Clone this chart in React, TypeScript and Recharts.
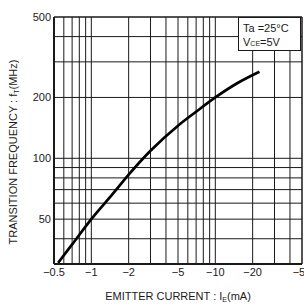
import { LineChart, Line, XAxis, YAxis, ReferenceLine } from "recharts";

// emitter current magnitude (mA) vs transition frequency fT (MHz)
const currentMA = [0.54, 0.7, 1, 1.5, 2, 3, 5, 7, 10, 15, 22.7];
const fT = [30.4, 37.5, 50, 67, 83, 109, 145, 170, 200, 235, 268];

const xTicks = [0.5, 1, 2, 5, 10, 20, 50];
const yTicks = [50, 100, 200, 500];
const xGrid = [0.6, 0.7, 0.8, 0.9, 1, 2, 3, 4, 5, 6, 7, 8, 9, 10, 20, 30, 40];
const yGrid = [40, 50, 60, 70, 80, 90, 100, 200, 300, 400];

const data = currentMA.map((i, k) => ({ i, f: fT[k] }));

const FONT = "'Liberation Sans', Arial, sans-serif";
const INK = "#1a1a1a";

function YTitle() {
  return (
    <text
      x={17}
      y={152}
      transform="rotate(-90, 17, 152)"
      textAnchor="middle"
      fontSize={11}
      fontFamily={FONT}
      fill={INK}
    >
      TRANSITION FREQUENCY : f
      <tspan fontSize={7} dy={2}>T</tspan>
      <tspan dy={-2}>(MHz)</tspan>
    </text>
  );
}

function XTitle() {
  return (
    <text x={178} y={300} textAnchor="middle" fontSize={11} fontFamily={FONT} fill={INK}>
      EMITTER CURRENT : I
      <tspan fontSize={7} dy={2}>E</tspan>
      <tspan dy={-2}>(mA)</tspan>
    </text>
  );
}

export default function App() {
  return (
    <div style={{ position: "absolute", left: 0, top: 0, width: 304, height: 305, background: "#fff" }}>
      <LineChart width={304} height={305} data={data} margin={{ top: 17, right: 2, left: 0, bottom: 0 }}>
        <XAxis
          dataKey="i"
          type="number"
          scale="log"
          domain={[0.5, 50]}
          ticks={xTicks}
          interval={0}
          allowDataOverflow
          tickFormatter={(v: number) => "\u2212" + v}
          tick={{ fill: INK, fontSize: 11, fontFamily: FONT }}
          tickSize={0}
          tickMargin={4}
          height={41}
          axisLine={{ stroke: INK, strokeWidth: 2 }}
          label={<XTitle />}
        />
        <YAxis
          dataKey="f"
          type="number"
          scale="log"
          domain={[30, 500]}
          ticks={yTicks}
          interval={0}
          allowDataOverflow
          tick={{ fill: INK, fontSize: 11, fontFamily: FONT }}
          tickSize={0}
          tickMargin={3}
          width={54}
          axisLine={{ stroke: INK, strokeWidth: 2 }}
          label={<YTitle />}
        />
        {xGrid.map((v) => (
          <ReferenceLine key={"x" + v} x={v} stroke={INK} strokeWidth={1} />
        ))}
        {yGrid.map((v) => (
          <ReferenceLine key={"y" + v} y={v} stroke={INK} strokeWidth={1} />
        ))}
        <ReferenceLine x={50} stroke={INK} strokeWidth={1.5} />
        <ReferenceLine y={500} stroke={INK} strokeWidth={1.5} />
        <Line
          dataKey="f"
          type="monotone"
          stroke="#000"
          strokeWidth={2.7}
          dot={false}
          isAnimationActive={false}
        />
      </LineChart>
      <div
        style={{
          position: "absolute",
          left: 238,
          top: 17,
          width: 63,
          height: 34,
          boxSizing: "border-box",
          border: `1px solid ${INK}`,
          background: "#fff",
          fontFamily: FONT,
          fontSize: 11,
          color: INK,
          lineHeight: "14px",
          padding: "3px 0 0 4px",
        }}
      >
        <div>Ta =25°C</div>
        <div>
          V<span style={{ fontSize: 7 }}>CE</span>=5V
        </div>
      </div>
    </div>
  );
}
